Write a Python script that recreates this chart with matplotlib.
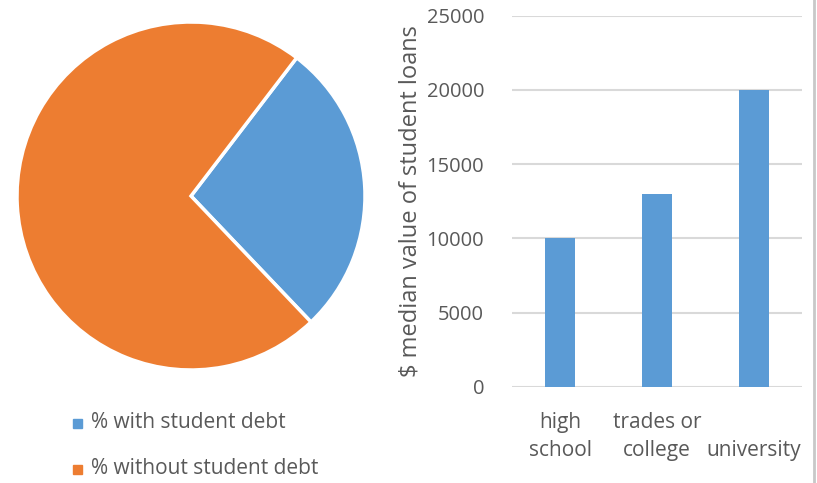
import matplotlib.pyplot as plt
from matplotlib.lines import Line2D
from matplotlib.patches import Rectangle

# share of students with / without debt
debt_labels = ['% with student debt', '% without student debt']
debt_share = [27.5, 72.5]
debt_colors = ['#5b9bd5', '#ed7d31']

# median loan value by education level
levels = ['high\nschool', 'trades or\ncollege', '\nuniversity']
loans = [10000, 13000, 20000]

plt.rcParams['font.family'] = ['Open Sans', 'DejaVu Sans']
text_gray = '#595959'

W, H = 817, 483
fig = plt.figure(figsize=(W / 100, H / 100), dpi=100)

# pie
cx, cy, r = 191, 196, 174
ax1 = fig.add_axes([(cx - r) / W, (H - cy - r) / H, 2 * r / W, 2 * r / H])
ax1.pie(debt_share, colors=debt_colors, startangle=52.6, counterclock=False,
        wedgeprops=dict(edgecolor='white', linewidth=2.5))
ax1.set_xlim(-1, 1)
ax1.set_ylim(-1, 1)
ax1.set_aspect('equal')

# legend for the pie
for i, (lab, col) in enumerate(zip(debt_labels, debt_colors)):
    y = 1 - (423 + 46 * i) / H
    fig.patches.append(Rectangle((73 / W, y - 4.5 / H), 9 / W, 9 / H,
                                 transform=fig.transFigure, color=col))
    fig.text(91 / W, y, lab, fontsize=15, color=text_gray, va='center', ha='left')

# bars
ax2 = fig.add_axes([512 / W, (H - 386.7) / H, 290 / W, 371 / H])
ax2.bar(range(len(levels)), loans, width=0.31, color='#5b9bd5', zorder=3)
ax2.set_xlim(-0.5, 2.5)
ax2.set_ylim(0, 25000)
ax2.set_yticks(range(0, 25001, 5000))
ax2.set_xticks(range(len(levels)))
ax2.set_xticklabels(levels, linespacing=1.45, fontsize=15)
ax2.grid(axis='y', color='#d9d9d9', linewidth=1.5, zorder=0)
for s in ax2.spines.values():
    s.set_visible(False)
ax2.tick_params(length=0, colors=text_gray)
ax2.tick_params(axis='y', labelsize=14.5, pad=20)
ax2.tick_params(axis='x', pad=18)
ax2.set_ylabel('$ median value of student loans', fontsize=17, color=text_gray, labelpad=3)

# border at the right edge
fig.add_artist(Line2D([813.5 / W, 813.5 / W], [0, 1], color='#c8c8c8', linewidth=2))

fig.savefig('out.png', dpi=100)
